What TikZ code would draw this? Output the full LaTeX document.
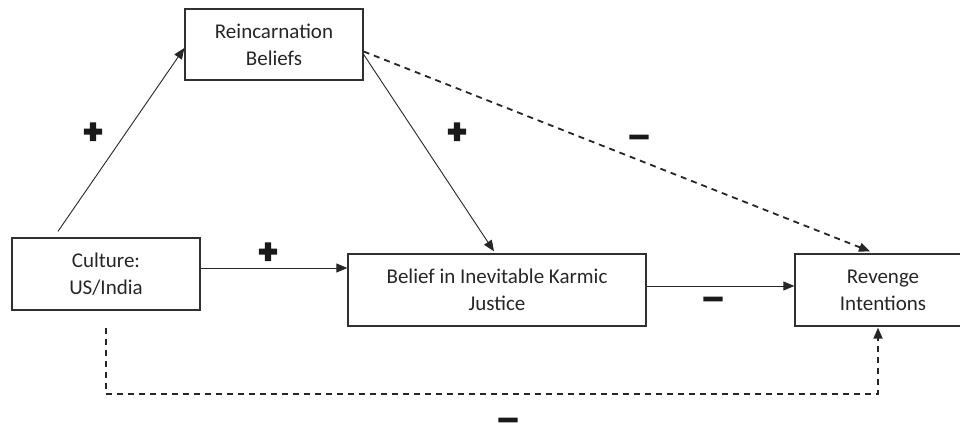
\documentclass[tikz,border=0pt]{standalone}
\usepackage{graphicx}
\usepackage{fontspec}
\setmainfont{Carlito}
\newfontfamily\plusfont[FakeBold=9]{Carlito Bold}
\newfontfamily\minusfont[FakeBold=10]{Carlito Bold}
\usetikzlibrary{arrows.meta,calc}
\definecolor{txt}{HTML}{262626}
\definecolor{edge}{HTML}{303030}
\tikzset{
  box/.style={draw=edge, line width=1.3bp, align=center, text=txt, inner sep=0pt,
    font=\fontsize{21bp}{27bp}\selectfont},
  arr/.style={draw=black!85, line width=0.9bp, -{Triangle[length=11bp,width=9bp]}},
  darr/.style={draw=black!85, line width=1.8bp, dash pattern=on 6bp off 5bp,
    -{Triangle[length=11bp,width=9bp]}},
  plussign/.style={text=black!90, inner sep=0pt, font=\fontsize{33bp}{33bp}\plusfont},
  minussign/.style={text=black!90, inner sep=0pt, text height=6bp, text depth=0bp,
    font=\fontsize{25bp}{25bp}\minusfont},
}
\newcommand{\widedash}{\scalebox{1.7}[1]{–}}
\begin{document}
\begin{tikzpicture}[x=1bp,y=-1bp]
\useasboundingbox (0,0) rectangle (960,433);
\node[box, minimum width=178bp, minimum height=71bp] (reinc) at (274,44.5) {Reincarnation\\Beliefs};
\node[box, minimum width=188bp, minimum height=72bp] (cult) at (106,274) {Culture:\\US/India};
\node[box, minimum width=298bp, minimum height=72bp] (belief) at (497,290) {Belief in Inevitable Karmic\\Justice};
\node[box, minimum width=176bp, minimum height=72bp] (rev) at (883,290) {Revenge\\Intentions};

\coordinate (c1) at ($(cult.north)+(-48,-6)$);
\draw[arr] (c1) -- ($(reinc.west)+(0,3.5)$);
\draw[arr] ($(reinc.east)+(0,10)$) -- ($(belief.north)+(-3,-2)$);
\draw[darr] ($(reinc.east)+(0,7)$) -- ($(rev.north)+(-13,-2)$);
\coordinate (c4) at ($(cult.east)+(0,-6)$);
\draw[arr] (c4) -- (c4 -| belief.west);
\coordinate (c5) at ($(belief.east)+(0,-4)$);
\draw[arr] (c5) -- (c5 -| rev.west);
\coordinate (c6) at ($(cult.south)+(0,17)$);
\draw[darr] (c6) -- ++(0,66) -| ($(rev.south)+(-5,1)$);

\node[plussign] (p1) at (93,133) {+};
\node[plussign] (p2) at (457,133) {+};
\node[plussign] (p3) at (268,253) {+};
\node[minussign, anchor=base] (m1) at (639,144) {\widedash};
\node[minussign, anchor=base] (m2) at (713,306) {\widedash};
\node[minussign, anchor=base] (m3) at (508,427) {\widedash};
\end{tikzpicture}
\end{document}
